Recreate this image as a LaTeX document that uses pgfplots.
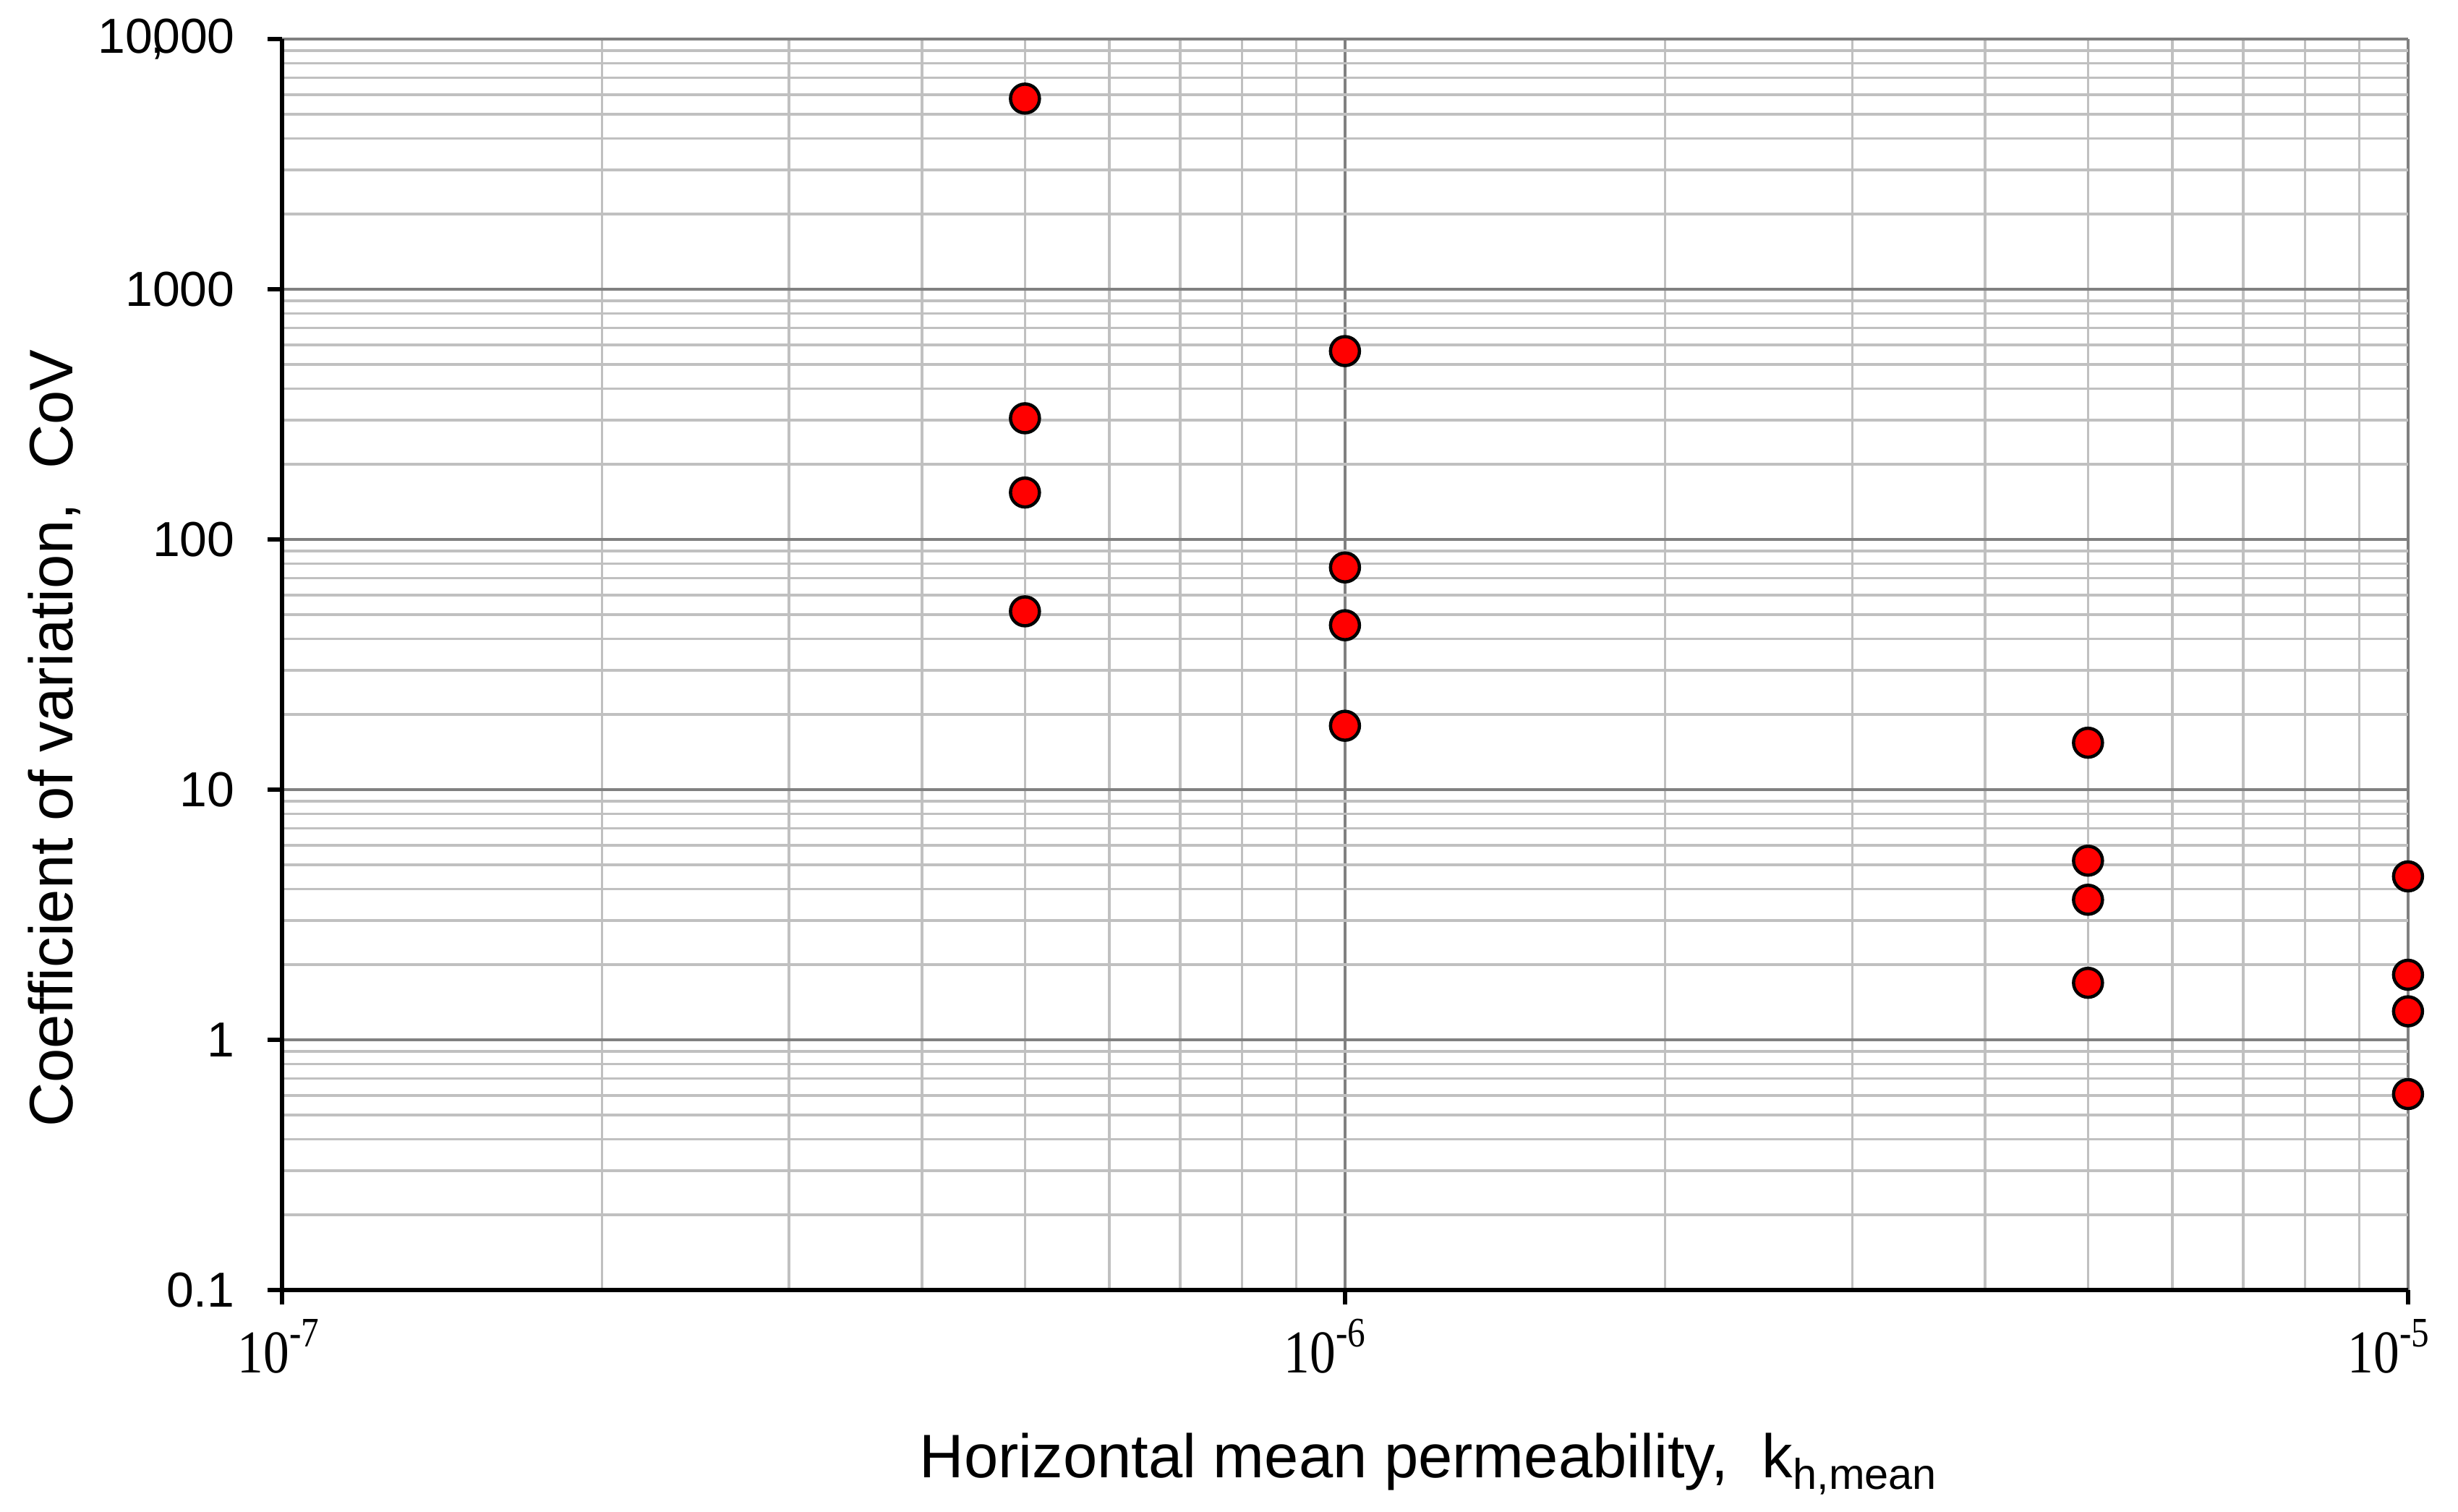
\documentclass[border=0pt]{standalone}
\usepackage{fontspec}
\setmainfont{Liberation Sans}
\newfontfamily\timesfont{Liberation Serif}
\usepackage{graphicx}
\usepackage{pgfplots}
\pgfplotsset{compat=1.18}
\definecolor{majgrid}{HTML}{808080}
\definecolor{mingrid}{HTML}{C0C0C0}
\definecolor{ptred}{HTML}{FF0000}
\newcommand{\xl}[2]{\scalebox{0.85}[1]{\fontsize{8.4}{10}\timesfont 10\raisebox{3.6pt}{\fontsize{5.8}{7}\selectfont -#1}}\hspace*{#2}}
\begin{document}
\begin{tikzpicture}
\useasboundingbox (-39pt,-30.6pt) rectangle (300.9pt,178.4pt);
\begin{axis}[
  at={(0,0)}, anchor=south west,
  scale only axis,
  width=294pt, height=173pt,
  xmode=log, ymode=log,
  xmin=1e-7, xmax=1e-5, ymin=0.1, ymax=10000,
  axis x line*=bottom, axis y line*=left,
  axis line style={black, line width=0.55pt, -},
  xtick={1e-7,1e-6,1e-5},
  xticklabels={{\xl{7}{1pt}},{\xl{6}{5.6pt}},{\xl{5}{5.4pt}}},
  ytick={0.1,1,10,100,1000,10000},
  yticklabels={0.1,1,10,100,1000,10\rlap{\kern-0.3pt,}000},
  x tick label style={anchor=base, yshift=-9.4pt},
  y tick label style={font=\fontsize{6.8}{8}\selectfont, xshift=-1pt},
  tick align=outside,
  major tick length=2pt,
  minor tick length=0pt,
  tick style={black, line width=0.55pt},
  grid=both,
  major grid style={majgrid, line width=0.4pt},
  minor grid style={mingrid, line width=0.35pt},
  xlabel={Horizontal mean permeability,\ \ k\textsubscript{h,mean}},
  ylabel={Coefficient of variation,\ \ CoV},
  every axis x label/.style={at={(axis description cs:0.54,-0.150)}, anchor=base, font=\fontsize{8.5}{10}\selectfont},
  every axis y label/.style={at={(axis description cs:-0.107,0.441)}, anchor=center, rotate=90, font=\fontsize{8.5}{10}\selectfont},
  clip=false,
]
\addplot[only marks, mark=*, mark size=2pt, mark options={fill=ptred, draw=black, line width=0.45pt}]
coordinates {
 (5e-7,5780) (5e-7,305) (5e-7,154) (5e-7,51.6)
 (1e-6,566) (1e-6,77.3) (1e-6,45.4) (1e-6,18.0)
 (5e-6,15.4) (5e-6,5.2) (5e-6,3.63) (5e-6,1.69)
 (1e-5,4.5) (1e-5,1.82) (1e-5,1.30) (1e-5,0.607)
};
\end{axis}
\end{tikzpicture}
\end{document}
